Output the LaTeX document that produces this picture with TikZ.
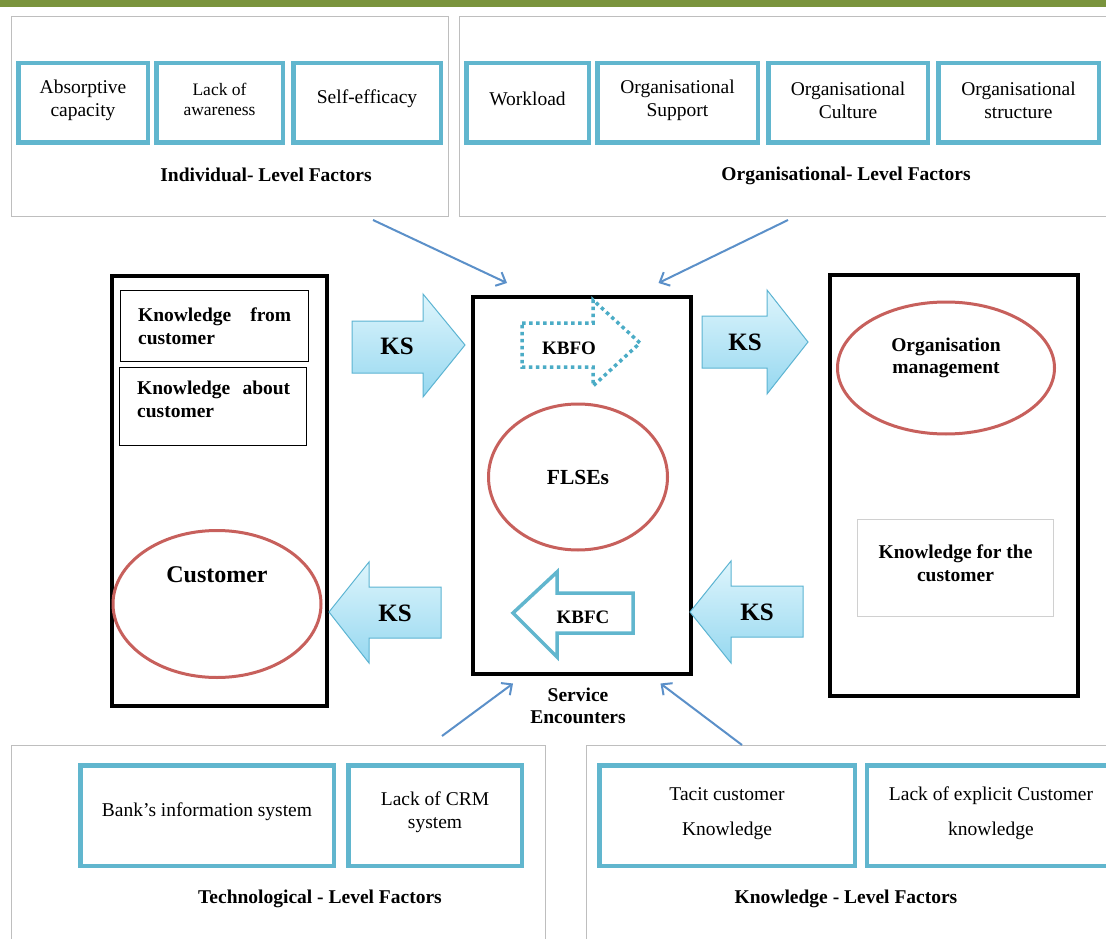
\documentclass[tikz,border=0pt]{standalone}
\usepackage{fontspec}
\setmainfont{Liberation Serif}
\usetikzlibrary{arrows.meta,shapes.geometric,calc}
\definecolor{fblue}{RGB}{97,182,206}
\definecolor{cblue}{RGB}{91,144,201}
\definecolor{ored}{RGB}{199,96,92}
\definecolor{gline}{RGB}{190,190,190}
\definecolor{lgline}{RGB}{208,208,208}
\definecolor{topbar}{RGB}{122,148,61}
\definecolor{kstop}{RGB}{222,245,252}
\definecolor{ksbot}{RGB}{150,216,240}
\definecolor{ksedge}{RGB}{92,180,210}
\definecolor{dotblue}{RGB}{75,172,198}
\begin{document}
\begin{tikzpicture}[x=1pt,y=-1pt,
  outerbox/.style={draw=gline, line width=1pt, anchor=north west, inner sep=0},
  factor/.style={draw=fblue, line width=4.5pt, inner sep=0},
  ftext/.style={align=center, inner sep=0, font=\fontsize{19.5}{23}\selectfont},
  heading/.style={font=\bfseries\fontsize{19.5}{22.5}\selectfont, align=center, inner sep=0},
  blackbox/.style={draw=black, line width=3.5pt, anchor=north west, inner sep=0},
  thinbox/.style={draw=black, line width=1.3pt, anchor=north west, inner sep=0},
  oval/.style={ellipse, draw=ored, line width=3pt, inner sep=0},
  ksarrow/.style={draw=ksedge, line width=1pt, top color=kstop, bottom color=ksbot},
  kslabel/.style={font=\bfseries\fontsize{25}{30}\selectfont, inner sep=0},
  conn/.style={draw=cblue, line width=2pt, -{Straight Barb[length=8pt,width=15pt]}}
]
\clip (0,0) rectangle (1106,939);
\fill[white] (0,0) rectangle (1106,939);
% top bar
\fill[topbar] (0,0) rectangle (1106,7);

% ---------- top factor groups ----------
\node[outerbox, minimum width=437, minimum height=200] (ind) at (11,16) {};
\node[outerbox, minimum width=700, minimum height=200] (org) at (459,16) {};

\node[factor, minimum width=129.5, minimum height=79.5] (abs) at (83,103) {};
\node[ftext] (abst) at (83,100) {Absorptive\\capacity};
\node[factor, minimum width=126.5, minimum height=79.5] (lack) at (219.5,103) {};
\node[ftext, font=\fontsize{17.5}{20.5}\selectfont] (lackt) at (219.5,99.5) {Lack of\\awareness};
\node[factor, minimum width=147.5, minimum height=79.5] (self) at (367,103) {};
\node[ftext] (selft) at (367,99) {Self-efficacy};
\node[heading] (indlbl) at (266,174.5) {Individual- Level Factors};

\node[factor, minimum width=122.5, minimum height=79.5] (work) at (527.5,103) {};
\node[ftext] (workt) at (527.5,99) {Workload};
\node[factor, minimum width=160.5, minimum height=79.5] (osup) at (677.5,103) {};
\node[ftext] (osupt) at (677.5,100) {Organisational\\Support};
\node[factor, minimum width=159.5, minimum height=79.5] (ocul) at (848,103) {};
\node[ftext] (ocult) at (848,100) {Organisational\\Culture};
\node[factor, minimum width=160.5, minimum height=79.5] (ostr) at (1018.5,103) {};
\node[ftext] (ostrt) at (1018.5,100) {Organisational\\structure};
\node[heading] (orglbl) at (846,175.5) {Organisational- Level Factors};

% ---------- middle blocks ----------
\node[blackbox, minimum width=215, minimum height=430] (cbox) at (110,274) {};
\node[thinbox, minimum width=188, minimum height=71, align=justify, text width=153,
  font=\bfseries\fontsize{19.5}{23}\selectfont] (kfrom) at (120,290) {Knowledge from customer};
\node[thinbox, minimum width=187, minimum height=78] (kabout) at (119,367) {};
\node[anchor=north west, inner sep=0, align=justify, text width=153,
  font=\bfseries\fontsize{19.5}{23}\selectfont] (kaboutlbl) at (137,381) {Knowledge about customer};
\node[oval, minimum width=208, minimum height=147] (cust) at (217,604) {};
\node[inner sep=0, font=\bfseries\fontsize{24}{28}\selectfont] (custlbl) at (217,575) {Customer};

\node[blackbox, minimum width=218, minimum height=377] (se) at (471,295) {};
\node[oval, minimum width=179, minimum height=146,
  font=\bfseries\fontsize{21.5}{25}\selectfont] (flse) at (578,477) {FLSEs};
\node[heading] (selbl) at (578,706) {Service\\Encounters};

\node[blackbox, minimum width=248, minimum height=421] (obox) at (828,273) {};
\node[oval, minimum width=217, minimum height=132, align=center,
  font=\bfseries\fontsize{19.5}{22}\selectfont] (omgmt) at (946,368) {Organisation\\management\\[2pt]};
\node[draw=lgline, line width=1pt, anchor=north west, inner sep=0,
  minimum width=196, minimum height=97] (kfor) at (857,519) {};
\node[heading] (kforlbl) at (955.5,563) {Knowledge for the\\customer};

% KBFO dotted arrow
\draw[dotblue, line width=3.5pt, dash pattern=on 3.5pt off 3.5pt]
  (522,323) -- (593,323) -- (593,300) -- (640,343) -- (593,386) -- (593,367) -- (522,367) -- cycle;
\node[inner sep=0, font=\bfseries\fontsize{19}{23}\selectfont] (kbfo) at (569,348) {KBFO};

% KBFC outline arrow
\draw[fblue, line width=3.5pt, line join=miter]
  (513,613) -- (557,572) -- (557,593) -- (633,593) -- (633,633) -- (557,633) -- (557,657) -- cycle;
\node[inner sep=0, font=\bfseries\fontsize{19}{23}\selectfont] (kbfc) at (583,617) {KBFC};

% KS block arrows
\path[ksarrow] (352,321) -- (423,321) -- (423,294) -- (465,345) -- (423,397) -- (423,373) -- (352,373) -- cycle;
\node[kslabel] (ks1) at (397,346) {KS};
\path[ksarrow] (702,316) -- (767,316) -- (767,290) -- (808,342) -- (767,394) -- (767,368) -- (702,368) -- cycle;
\node[kslabel] (ks2) at (745,342) {KS};
\path[ksarrow] (441,587) -- (369,587) -- (369,562) -- (329,612) -- (369,663) -- (369,638) -- (441,638) -- cycle;
\node[kslabel] (ks3) at (395,613) {KS};
\path[ksarrow] (803,586) -- (731,586) -- (731,561) -- (690,612) -- (731,663) -- (731,637) -- (803,637) -- cycle;
\node[kslabel] (ks4) at (757,612) {KS};

% ---------- bottom factor groups ----------
\node[outerbox, minimum width=534, minimum height=250] (tech) at (11,745) {};
\node[outerbox, minimum width=600, minimum height=250] (know) at (586,745) {};

\node[factor, minimum width=253.5, minimum height=100.5] (bank) at (207,815.5) {};
\node[ftext] (bankt) at (207,811.5) {Bank’s information system};
\node[factor, minimum width=173.5, minimum height=100.5] (crm) at (435,815.5) {};
\node[ftext] (crmt) at (435,812.5) {Lack of CRM\\system};
\node[heading] (techlbl) at (320,899) {Technological - Level Factors};

\node[factor, minimum width=255.5, minimum height=100.5] (tacit) at (727,815.5) {};
\node[ftext, font=\fontsize{19.5}{35}\selectfont] (tacitt) at (727,813.5) {Tacit customer\\Knowledge};
\node[factor, minimum width=250, minimum height=100.5] (expl) at (992,815.5) {};
\node[ftext, font=\fontsize{19.5}{35}\selectfont] (explt) at (991,813.5) {Lack of explicit Customer\\knowledge};
\node[heading] (knowlbl) at (846,899) {Knowledge - Level Factors};

% ---------- connectors ----------
\coordinate (a1) at ($(ind.south west)+(362,3)$);
\coordinate (b1) at ($(se.north west)+(36,-12)$);
\coordinate (a2) at ($(org.south west)+(329,3)$);
\coordinate (b2) at ($(se.north east)+(-34,-12)$);
\coordinate (a3) at ($(tech.north west)+(431,-9)$);
\coordinate (b3) at ($(se.south west)+(42,8)$);
\coordinate (a4) at ($(know.north west)+(156,0)$);
\coordinate (b4) at ($(se.south east)+(-32,8)$);
\draw[conn] (a1) -- (b1);
\draw[conn] (a2) -- (b2);
\draw[conn] (a3) -- (b3);
\draw[conn] (a4) -- (b4);
\end{tikzpicture}
\end{document}
